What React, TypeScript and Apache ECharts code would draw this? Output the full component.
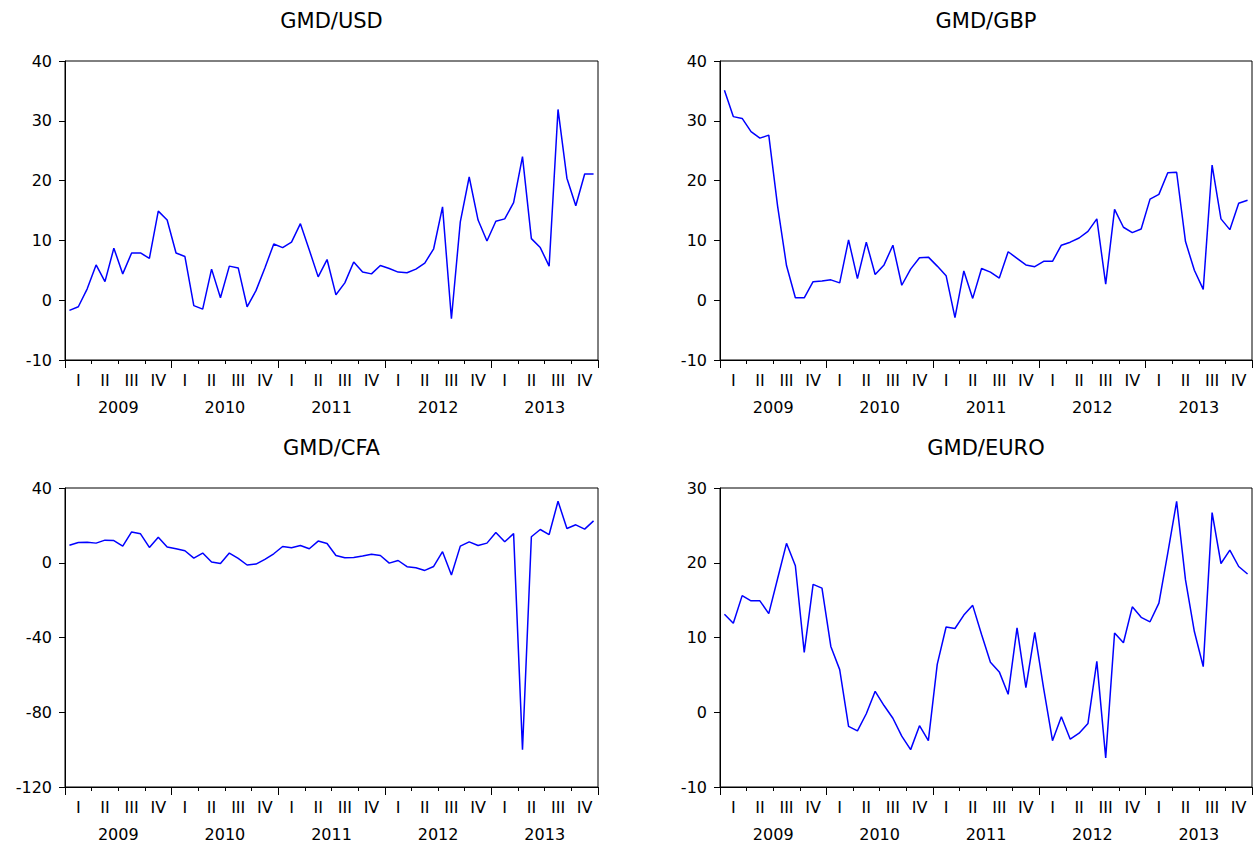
import React, { useEffect, useRef } from "react";
import * as echarts from "echarts";

// Calendar: monthly observations, 2009M01 – 2013M12
const years = ["2009", "2010", "2011", "2012", "2013"];
const quarterNames = ["I", "II", "III", "IV"];
const monthNames = ["01", "02", "03", "04", "05", "06", "07", "08", "09", "10", "11", "12"];

// Monthly series (%)
const gmdUsd = [
  -1.7, -1.1, 1.9, 5.9, 3.1, 8.7, 4.4, 7.9, 7.9, 7.0, 14.9, 13.4,
  7.9, 7.3, -0.9, -1.5, 5.2, 0.4, 5.7, 5.4, -1.1, 1.6, 5.4, 9.4,
  8.8, 9.7, 12.8, 8.4, 3.9, 6.8, 0.9, 2.9, 6.4, 4.7, 4.4, 5.8,
  5.3, 4.7, 4.6, 5.2, 6.2, 8.6, 15.6, -3.1, 13.1, 20.6, 13.4, 9.9,
  13.2, 13.6, 16.3, 24.0, 10.3, 8.8, 5.7, 31.9, 20.4, 15.8, 21.1, 21.1,
];

const gmdGbp = [
  35.1, 30.7, 30.4, 28.2, 27.1, 27.6, 15.7, 5.8, 0.4, 0.4, 3.1, 3.2,
  3.4, 2.9, 10.1, 3.6, 9.7, 4.3, 5.9, 9.2, 2.5, 5.2, 7.1, 7.2,
  5.7, 4.1, -2.9, 4.9, 0.3, 5.3, 4.7, 3.7, 8.1, 7.0, 5.9, 5.6,
  6.5, 6.5, 9.2, 9.7, 10.4, 11.5, 13.6, 2.7, 15.2, 12.2, 11.3, 11.9,
  16.9, 17.7, 21.3, 21.4, 9.8, 5.0, 1.8, 22.6, 13.6, 11.8, 16.2, 16.7,
];

const gmdCfa = [
  9.4, 10.8, 11.0, 10.5, 12.1, 11.9, 8.9, 16.5, 15.5, 8.2, 13.7, 8.4,
  7.5, 6.4, 2.5, 5.2, 0.4, -0.4, 5.2, 2.3, -1.2, -0.7, 1.8, 4.8,
  8.7, 8.0, 9.2, 7.5, 11.6, 10.3, 3.9, 2.7, 2.8, 3.6, 4.6, 3.9,
  -0.2, 1.2, -2.1, -2.7, -4.1, -2.0, 5.9, -6.6, 8.9, 11.2, 9.2, 10.5,
  16.2, 11.2, 15.6, -100.0, 13.9, 17.8, 15.1, 32.9, 18.3, 20.3, 18.0, 22.4,
];

const gmdEuro = [
  13.1, 11.9, 15.6, 14.9, 14.9, 13.2, 17.9, 22.6, 19.6, 8.0, 17.1, 16.6,
  8.8, 5.7, -1.9, -2.5, -0.2, 2.8, 0.9, -0.8, -3.2, -5.0, -1.8, -3.8,
  6.4, 11.4, 11.2, 13.0, 14.3, 10.4, 6.7, 5.4, 2.4, 11.3, 3.3, 10.7,
  3.2, -3.8, -0.6, -3.6, -2.8, -1.5, 6.8, -6.1, 10.6, 9.3, 14.1, 12.7,
  12.1, 14.6, 21.3, 28.2, 17.7, 10.8, 6.1, 26.7, 19.9, 21.7, 19.5, 18.5,
];

const months = years.flatMap((y) => monthNames.map((m) => `${y}-${m}`));
const quarters = years.flatMap((y) => quarterNames.map((q) => `${q} ${y}`));

const FONT = "'DejaVu Sans', sans-serif";

type Panel = {
  title: string;
  data: number[];
  min: number;
  max: number;
  interval: number;
  left: number;
  top: number;
  width: number;
  height: number;
};

const panels: Panel[] = [
  { title: "GMD/USD", data: gmdUsd, min: -10, max: 40, interval: 10, left: 65, top: 61, width: 533, height: 299 },
  { title: "GMD/GBP", data: gmdGbp, min: -10, max: 40, interval: 10, left: 720, top: 61, width: 532, height: 299 },
  { title: "GMD/CFA", data: gmdCfa, min: -120, max: 40, interval: 40, left: 65, top: 488, width: 533, height: 299 },
  { title: "GMD/EURO", data: gmdEuro, min: -10, max: 30, interval: 10, left: 720, top: 488, width: 532, height: 299 },
];

export default function App() {
  const ref = useRef<HTMLDivElement>(null);

  useEffect(() => {
    if (!ref.current) return;
    const chart = echarts.init(ref.current, null, { renderer: "svg" });

    const grid: any[] = [];
    const xAxis: any[] = [];
    const yAxis: any[] = [];
    const series: any[] = [];
    const graphic: any[] = [];
    const black = { color: "#000", width: 1 };

    panels.forEach((p, g) => {
      grid.push({
        left: p.left,
        top: p.top,
        width: p.width,
        height: p.height,
        show: true,
        borderColor: "#000",
        borderWidth: 1,
        backgroundColor: "transparent",
      });

      // monthly axis: carries the line, quarter ticks
      xAxis.push({
        type: "category",
        gridIndex: g,
        data: months,
        position: "bottom",
        boundaryGap: true,
        axisLine: { show: true, onZero: false, lineStyle: black },
        axisTick: { show: true, interval: 2, length: 4, lineStyle: black },
        axisLabel: { show: false },
        splitLine: { show: false },
      });
      // quarter labels
      xAxis.push({
        type: "category",
        gridIndex: g,
        data: quarters,
        position: "bottom",
        boundaryGap: true,
        axisLine: { show: false, onZero: false },
        axisTick: { show: false },
        axisLabel: {
          interval: 0,
          margin: 12,
          fontSize: 16,
          fontFamily: FONT,
          color: "#000",
          formatter: (v: string) => v.split(" ")[0],
        },
        splitLine: { show: false },
      });
      // year labels and year ticks
      xAxis.push({
        type: "category",
        gridIndex: g,
        data: years,
        position: "bottom",
        boundaryGap: true,
        axisLine: { show: false, onZero: false },
        axisTick: { show: true, interval: 0, length: 8, lineStyle: black },
        axisLabel: { interval: 0, margin: 39, fontSize: 16, fontFamily: FONT, color: "#000" },
        splitLine: { show: false },
      });

      yAxis.push({
        type: "value",
        gridIndex: g,
        min: p.min,
        max: p.max,
        interval: p.interval,
        axisLine: { show: true, lineStyle: black },
        axisTick: { show: true, length: 6, lineStyle: black },
        axisLabel: { margin: 13, fontSize: 16, fontFamily: FONT, color: "#000" },
        splitLine: { show: false },
      });

      series.push({
        type: "line",
        name: p.title,
        xAxisIndex: 3 * g,
        yAxisIndex: g,
        data: p.data,
        symbol: "none",
        showSymbol: false,
        lineStyle: { color: "#0000ff", width: 1.5 },
        itemStyle: { color: "#0000ff" },
      });

      graphic.push({
        type: "text",
        x: p.left + p.width / 2,
        y: p.top - 40,
        style: {
          text: p.title,
          fontSize: 21,
          fontFamily: FONT,
          fill: "#000",
          textAlign: "center",
          textVerticalAlign: "middle",
        },
      });
    });

    chart.setOption({
      animation: false,
      backgroundColor: "#fff",
      grid,
      xAxis,
      yAxis,
      series,
      graphic,
    });

    return () => chart.dispose();
  }, []);

  return (
    <div
      ref={ref}
      style={{ position: "fixed", left: 0, top: 0, width: 1257, height: 844, background: "#fff" }}
    />
  );
}
